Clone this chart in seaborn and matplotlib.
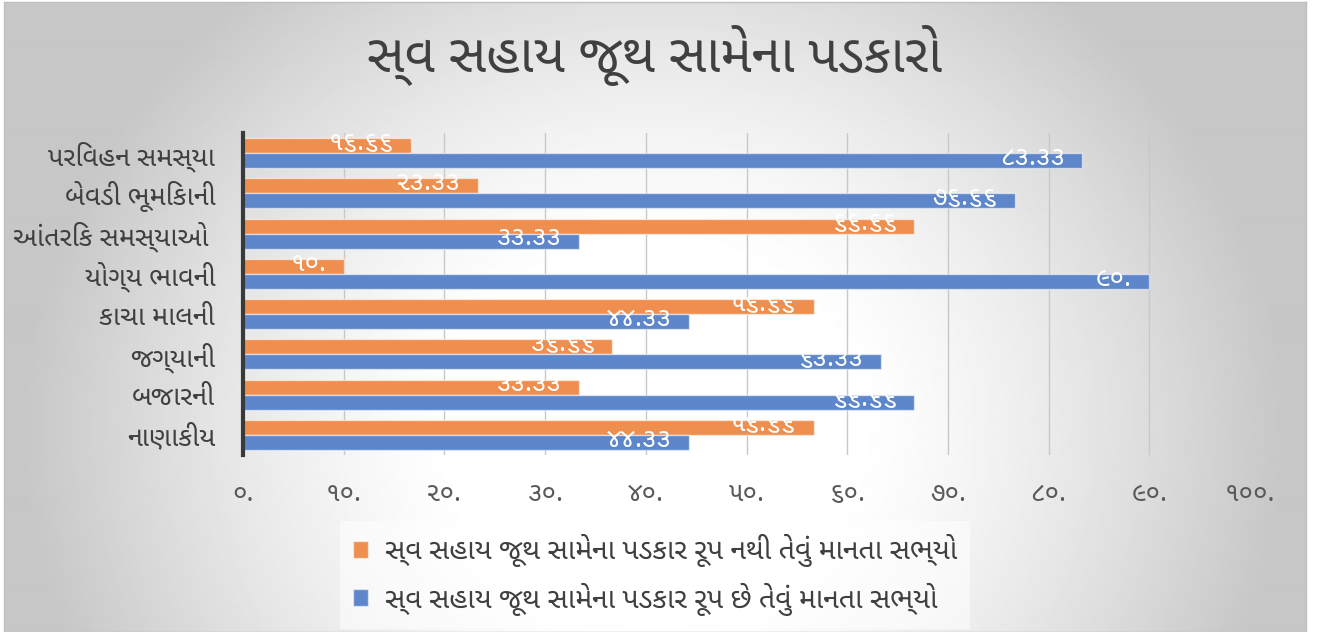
import matplotlib
matplotlib.use("Agg")
import numpy as np
import pandas as pd
import matplotlib.pyplot as plt
import seaborn as sns
from matplotlib import font_manager as fm
from matplotlib.ft2font import FT2Font

# ---------------- data ----------------
categories = ["પરિવહન સમસ્યા", "બેવડી ભૂમિકાની", "આંતરિક સમસ્યાઓ ", "યોગ્ય ભાવની",
              "કાચા માલની", "જગ્યાની", "બજારની", "નાણાકીય"]
series_names = ["સ્વ સહાય જૂથ સામેના પડકાર રૂપ નથી તેવું માનતા સભ્યો",
                "સ્વ સહાય જૂથ સામેના પડકાર રૂપ છે તેવું માનતા સભ્યો"]
not_challenge = [16.66, 23.33, 66.66, 10, 56.66, 36.66, 33.33, 56.66]
is_challenge = [83.33, 76.66, 33.33, 90, 44.33, 63.33, 66.66, 44.33]
x_ticks = [0, 10, 20, 30, 40, 50, 60, 70, 80, 90, 100]
title = "સ્વ સહાય જૂથ સામેના પડકારો"

# ---------------- fonts ----------------
def has_gujarati(path):
    try:
        return 0x0A97 in FT2Font(path).get_charmap()
    except Exception:
        return False

preferred = ["Noto Sans Gujarati", "Hind Vadodara", "Mukta Vaani", "Anek Gujarati",
             "Baloo Bhai 2", "Rasa", "Farsan"]
guj_font = None
for name in preferred:
    entries = [f for f in fm.fontManager.ttflist if f.name == name]
    if entries and has_gujarati(entries[0].fname):
        guj_font = name
        break
if guj_font is None:
    for f in fm.fontManager.ttflist:
        if "Gujarati" in f.name or "Vadodara" in f.name:
            if has_gujarati(f.fname):
                guj_font = f.name
                break

sns.set_theme(style="white")
families = ([guj_font] if guj_font else []) + ["DejaVu Sans"]
plt.rcParams["font.family"] = families

GUJ_DIGITS = str.maketrans("0123456789", "૦૧૨૩૪૫૬૭૮૯")
def guj_num(v):
    s = f"{int(round(v))}." if abs(v - round(v)) < 1e-9 else f"{v:.2f}"
    return s.translate(GUJ_DIGITS)

# ---------------- frame ----------------
W, H = 1323, 632
fig = plt.figure(figsize=(W / 100, H / 100), dpi=100)
fig.patch.set_facecolor("white")

# gradient background panel
bg_left, bg_right = 4 / W, 1306 / W
bg = fig.add_axes([bg_left, 0.0, bg_right - bg_left, 0.997], zorder=-5)
yy, xx = np.mgrid[0:H, 0:(1306 - 4)]
cx, cy = 650, 430
r = np.sqrt(((xx - cx) / 700.0) ** 2 + ((yy - cy) / 640.0) ** 2)
t = np.clip((r - 0.28) / 0.62, 0, 1)
val = 1.0 - 0.22 * t ** 1.3
bg.imshow(val, cmap="gray", vmin=0, vmax=1, aspect="auto", interpolation="bilinear")
bg.set_xticks([]); bg.set_yticks([])
for s in bg.spines.values():
    s.set_color("#bfbfbf"); s.set_linewidth(1)

# ---------------- chart ----------------
df = pd.DataFrame({
    "category": categories * 2,
    "value": not_challenge + is_challenge,
    "series": [series_names[0]] * len(categories) + [series_names[1]] * len(categories),
})
palette = {series_names[0]: "#EF8F4F", series_names[1]: "#5E86CB"}

ax = fig.add_axes([243 / W, 1 - 455 / H, (1250 - 243) / W, (455 - 133) / H])
ax.set_facecolor("none")
sns.barplot(data=df, y="category", x="value", hue="series", order=categories,
            hue_order=series_names, palette=palette, orient="h", width=0.75,
            edgecolor=(1, 1, 1, 0.55), linewidth=1, saturation=1, ax=ax, legend=True)

ax.set_xlim(0, 100)
ax.set_xticks(x_ticks)
ax.set_xticklabels([guj_num(v) for v in x_ticks], fontsize=19, color="#595959")
ax.tick_params(axis="x", length=0, pad=18)
ax.tick_params(axis="y", length=0, pad=20)
for lab in ax.get_yticklabels():
    lab.set_fontsize(19.5)
    lab.set_color("#404040")
ax.set_xlabel(""); ax.set_ylabel("")
ax.xaxis.grid(True, color="#c8c8c8", linewidth=1)
ax.set_axisbelow(True)
for side in ["top", "right", "bottom"]:
    ax.spines[side].set_visible(False)
ax.spines["left"].set_color("#3a3a3a")
ax.spines["left"].set_linewidth(3)
ax.spines["left"].set_zorder(5)

# value labels inside bar ends
for cont in ax.containers:
    for bar in cont:
        w = bar.get_width()
        ax.annotate(guj_num(w), xy=(w, bar.get_y() + bar.get_height() / 2),
                    xytext=(-12.5, 2), textcoords="offset points",
                    ha="right", va="center", color="white", fontsize=19,
                    fontweight="medium")

# legend
handles, labels = ax.get_legend_handles_labels()
ax.legend_.remove()
leg = fig.legend(handles, labels, loc="center", bbox_to_anchor=(655 / W, 1 - 575 / H),
                 ncol=1, fontsize=20.5, frameon=True, fancybox=False, framealpha=0.55,
                 facecolor="white", edgecolor="none", handlelength=0.55, handleheight=0.55,
                 handletextpad=0.6, labelspacing=0.55, borderpad=0.45)
for txt in leg.get_texts():
    txt.set_color("#404040")

# title
fig.text(655 / W, 1 - 55 / H, title, ha="center", va="center", fontsize=38,
         fontweight="bold", color="#404040")

fig.savefig("out.png", dpi=100)
